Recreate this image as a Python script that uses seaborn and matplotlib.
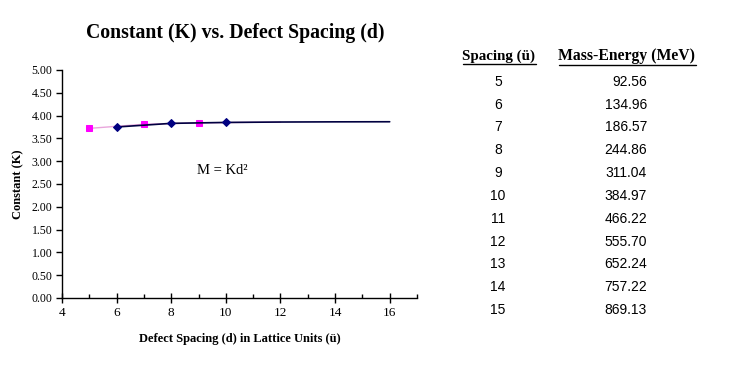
import matplotlib
matplotlib.use("Agg")
import matplotlib.pyplot as plt
import seaborn as sns
import pandas as pd
from matplotlib.lines import Line2D
from matplotlib.ticker import MultipleLocator, FormatStrFormatter

# Data
odd_spacing = [5, 7, 9, 11, 12]
odd_k = [3.72, 3.81, 3.84, 3.853, 3.855]
even_spacing = [6, 8, 10, 12, 14, 16]
even_k = [3.75, 3.83, 3.85, 3.859, 3.863, 3.865]

table_spacing = [5, 6, 7, 8, 9, 10, 11, 12, 13, 14, 15]
table_mass = ["92.56", "134.96", "186.57", "244.86", "311.04", "384.97",
              "466.22", "555.70", "652.24", "757.22", "869.13"]

sns.set_theme(style="white")
plt.rcParams['font.family'] = ['Liberation Serif', 'DejaVu Serif']
plt.rcParams['text.color'] = 'black'
plt.rcParams['axes.labelcolor'] = 'black'

fig = plt.figure(figsize=(7.35, 3.68), dpi=100)
W, H = 735, 368
ax = fig.add_axes([62 / W, 1 - 298 / H, (417 - 62) / W, (298 - 70) / H])

df_odd = pd.DataFrame({"d": odd_spacing, "K": odd_k})
df_even = pd.DataFrame({"d": even_spacing, "K": even_k})

sns.lineplot(data=df_odd, x="d", y="K", ax=ax, color="#e9a6dc", lw=1.0,
             marker="s", markersize=5, markerfacecolor="#ff00ff",
             markeredgecolor="#ff00ff", markevery=[0, 1, 2], zorder=2)
sns.lineplot(data=df_even, x="d", y="K", ax=ax, color="#000040", lw=1.2,
             marker="D", markersize=4, markerfacecolor="#000080",
             markeredgecolor="#000080", markevery=[0, 1, 2], zorder=3)

ax.set_xlim(4, 17)
ax.set_ylim(0, 5)
ax.xaxis.set_major_locator(MultipleLocator(2))
ax.xaxis.set_minor_locator(MultipleLocator(1))
ax.yaxis.set_major_locator(MultipleLocator(0.5))
ax.yaxis.set_major_formatter(FormatStrFormatter("%.2f"))

for s in ["top", "right"]:
    ax.spines[s].set_visible(False)
for s in ["left", "bottom"]:
    ax.spines[s].set_color("black")
    ax.spines[s].set_linewidth(1.0)

ax.tick_params(axis="x", which="major", direction="inout", length=7, width=1,
               bottom=True, labelsize=9.5, pad=3, colors="black")
ax.tick_params(axis="x", which="minor", direction="in", length=3, width=1,
               bottom=True, colors="black")
ax.tick_params(axis="y", which="major", direction="out", length=4, width=1,
               left=True, labelsize=8.5, pad=3, colors="black")

ax.set_xlabel("Defect Spacing (d) in Lattice Units (ü)", fontsize=9,
              fontweight="bold", labelpad=10)
ax.set_ylabel("Constant (K)", fontsize=9, fontweight="bold", labelpad=5)

ax.text(9.86, 2.8, "M = Kd²", fontsize=10.5, ha="center", va="center")

fig.text(235 / W, 1 - 33 / H, "Constant (K) vs. Defect Spacing (d)",
         fontsize=14.2, fontweight="bold", ha="center", va="center")

# Table
hdr_y = 1 - 56 / H
h1 = fig.text(499 / W, hdr_y, "Spacing (ü)", fontsize=10.8, fontweight="bold",
              ha="center", va="center")
h2 = fig.text(627 / W, hdr_y, "Mass-Energy (MeV)", fontsize=11.3,
              fontweight="bold", ha="center", va="center")

row0 = 81.7
step = 22.83
for i, (sp, m) in enumerate(zip(table_spacing, table_mass)):
    y = 1 - (row0 + i * step) / H
    fig.text(498 / W, y, str(sp), fontsize=10, ha="center", va="center",
             family=["Liberation Sans", "DejaVu Sans"])
    fig.text(647 / W, y, m, fontsize=10, ha="right", va="center",
             family=["Liberation Sans", "DejaVu Sans"])

fig.canvas.draw()
r = fig.canvas.get_renderer()
for t in (h1, h2):
    bb = t.get_window_extent(renderer=r)
    yline = (bb.y0 - 1) / fig.bbox.height
    fig.add_artist(Line2D([bb.x0 / fig.bbox.width, bb.x1 / fig.bbox.width],
                          [yline, yline], color="black", lw=1.0))

fig.savefig("out.png", dpi=100, facecolor="white")
